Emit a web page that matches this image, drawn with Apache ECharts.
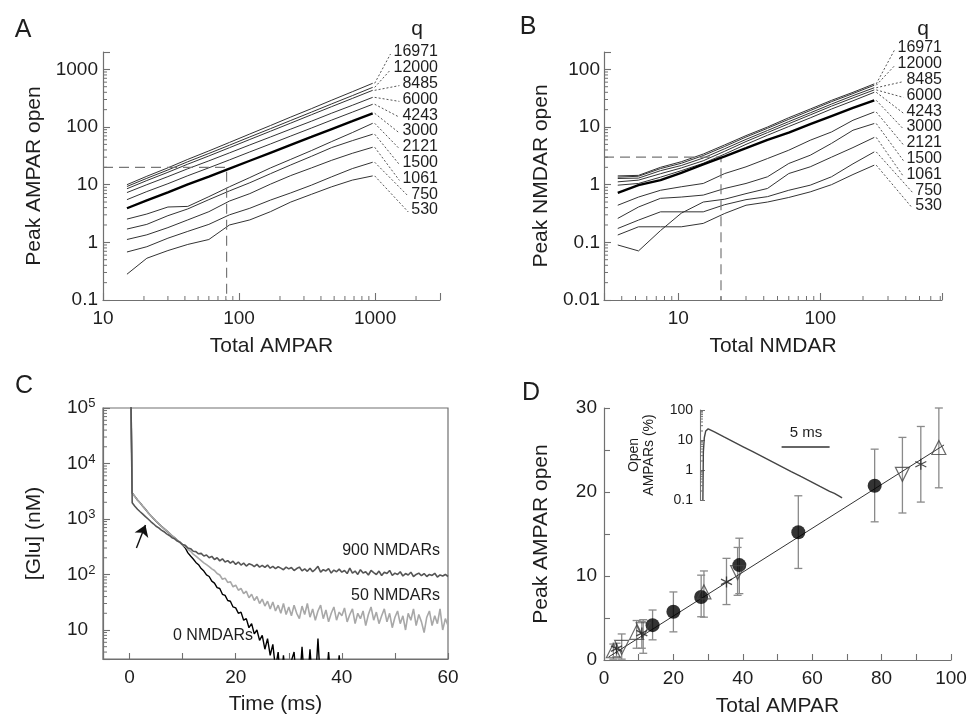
<!DOCTYPE html>
<html><head><meta charset="utf-8">
<script src="https://cdn.jsdelivr.net/npm/echarts@6/dist/echarts.min.js"></script>
<style>html,body{margin:0;padding:0;background:#fff}#c{width:968px;height:718px}</style>
</head><body><div id="c"></div>
<script>
// ---------------- DATA ----------------
const qLabels = ['16971','12000','8485','6000','4243','3000','2121','1500','1061','750','530'];
const xA = [15, 21, 30, 42, 60, 85, 120, 170, 240, 340, 480, 680, 960];
const a16971 = [10, 14, 19.6, 27.5, 38.5, 54, 75.7, 106, 149, 208, 292, 409, 573];
const a12000 = [9.3, 12.9, 18.0, 25.0, 34.8, 48.4, 67.3, 93.6, 130, 181, 252, 350, 487];
const a8485  = [8.5, 11.8, 16.4, 22.7, 31.5, 43.8, 60.8, 84.4, 117, 163, 226, 313, 433];
const a6000  = [7.3, 10.0, 13.8, 18.9, 25.9, 35.6, 48.9, 67.1, 92, 126, 174, 238, 327];
const a4243  = [5.5, 7.6, 10.4, 14.3, 19.6, 26.9, 37.0, 50.8, 69.8, 95.9, 132, 181, 248];
const a3000  = [3.9, 5.35, 7.34, 10.1, 13.8, 19.0, 26.0, 35.7, 49.0, 67.2, 92.2, 126, 173];
const a2121  = [2.53, 3.1, 4.1, 4.2, 6.2, 9.2, 13.3, 19.5, 27.5, 39, 56, 80, 116];
const a1500  = [1.7, 2.05, 2.9, 3.8, 5.5, 7.8, 10.8, 15.5, 22, 31, 44, 58, 75];
const a1061  = [1.12, 1.35, 1.8, 2.45, 3.4, 5.2, 7.0, 10.2, 14.4, 19.5, 26.5, 35, 44.6];
const a750   = [0.68, 0.84, 1.18, 1.55, 2.05, 3.0, 3.9, 5.4, 7.2, 9.8, 13.7, 19, 24.5];
const a530   = [0.28, 0.53, 0.72, 0.92, 1.12, 2.0, 2.45, 3.4, 5.0, 6.8, 9.2, 12, 14.2];
const dashA = [[10, 20], [81, 20], [81, 0.1]];

const xB = [3.75, 5.25, 7.5, 10.5, 15, 21.25, 30, 42.5, 60, 85, 120, 170, 240];
const b16971 = [1.42, 1.45, 2.0, 2.5, 3.4, 4.9, 7.1, 10, 14.5, 20.5, 29, 40, 56];
const b12000 = [1.35, 1.4, 1.9, 2.35, 3.2, 4.6, 6.7, 9.5, 13.6, 19.3, 27.5, 38, 53];
const b8485  = [1.28, 1.3, 1.75, 2.15, 2.9, 4.2, 6.1, 8.7, 12.4, 17.6, 25, 35, 48];
const b6000  = [1.12, 1.2, 1.55, 1.95, 2.6, 3.8, 5.6, 8.0, 11.4, 16.2, 23, 32, 44];
const b4243  = [0.98, 1.05, 1.35, 1.75, 2.35, 3.4, 5.0, 7.2, 10.2, 14.4, 20.5, 28.5, 40];
const b3000  = [0.72, 0.98, 1.2, 1.6, 2.25, 3.1, 4.3, 6.0, 8.0, 11.2, 15.5, 21.5, 29];
const b2121  = [0.44, 0.61, 0.80, 0.92, 1.05, 1.56, 2.04, 2.84, 3.96, 5.9, 8.2, 13.1, 18.2];
const b1500  = [0.26, 0.41, 0.58, 0.61, 0.66, 0.86, 1.05, 1.37, 2.33, 3.24, 5.2, 8.8, 11.5];
const b1061  = [0.09, 0.071, 0.16, 0.32, 0.5, 0.56, 0.70, 0.86, 1.56, 2.04, 3.0, 4.4, 6.6];
const b750   = [0.174, 0.243, 0.338, 0.338, 0.338, 0.45, 0.55, 0.62, 0.8, 0.98, 1.37, 2.3, 3.7];
const b530   = [0.134, 0.186, 0.186, 0.186, 0.213, 0.317, 0.44, 0.5, 0.6, 0.75, 1.0, 1.5, 2.18];
const dashB = [[3, 3], [20, 3], [20, 0.01]];

const tC = [
  0.25, 0.5, 1, 1.5, 2, 2.5, 3, 3.5, 4, 4.5,
  5, 5.5, 6, 6.5, 7, 7.5, 8, 8.5, 9, 9.5,
  10, 10.5, 11, 11.5, 12, 12.5, 13, 13.5, 14, 14.5,
  15, 15.5, 16, 16.5, 17, 17.5, 18, 18.5, 19, 19.5,
  20, 20.5, 21, 21.5, 22, 22.5, 23, 23.5, 24, 24.5,
  25, 25.5, 26, 26.5, 27, 27.5, 28, 28.5, 29, 29.5,
  30, 30.5, 31, 31.5, 32, 32.5, 33, 33.5, 34, 34.5,
  35, 35.5, 36, 36.5, 37, 37.5, 38, 38.5, 39, 39.5,
  40, 40.5, 41, 41.5, 42, 42.5, 43, 43.5, 44, 44.5,
  45, 45.5, 46, 46.5, 47, 47.5, 48, 48.5, 49, 49.5,
  50, 50.5, 51, 51.5, 52, 52.5, 53, 53.5, 54, 54.5,
  55, 55.5, 56, 56.5, 57, 57.5, 58, 58.5, 59, 59.5,
  60];
const glu900 = [
  200000, 1970, 1700, 1500, 1350, 1220, 1100, 1000, 900, 820,
  740, 690, 630, 590, 540, 505, 460, 440, 400, 380,
  345, 335, 300, 292, 262, 258, 236, 240, 215, 224,
  200, 212, 186, 200, 176, 192, 168, 178, 160, 174,
  152, 168, 148, 160, 142, 156, 150, 138, 152, 136,
  146, 134, 148, 130, 140, 128, 138, 130, 122, 136,
  126, 134, 118, 128, 136, 116, 126, 114, 130, 112,
  124, 140, 110, 122, 116, 128, 106, 120, 112, 125,
  110, 118, 104, 130, 106, 115, 100, 122, 106, 112,
  98, 118, 108, 100, 115, 96, 110, 104, 118, 96,
  106, 100, 112, 94, 104, 98, 110, 92, 100, 106,
  95, 104, 92, 100, 96, 105, 90, 98, 94, 100,
  92];
const glu50 = [
  200000, 2950, 2550, 2200, 1950, 1700, 1500, 1300, 1150, 1020,
  910, 820, 740, 670, 610, 555, 500, 460, 415, 380,
  340, 318, 285, 262, 232, 215, 195, 178, 162, 150,
  138, 126, 118, 104, 98, 82, 86, 72, 74, 60,
  64, 52, 56, 45, 50, 38, 44, 34, 40, 30,
  36, 27, 33, 24, 32, 22, 28, 20, 30, 19,
  26, 18, 28, 20, 16, 27, 19, 30, 17, 24,
  15, 22, 28, 16, 23, 14, 20, 26, 15, 21,
  18, 25, 14, 19, 24, 13, 20, 16, 22, 12,
  19, 26, 15, 21, 13, 18, 24, 14, 20, 11,
  17, 22, 13, 18, 10, 20, 15, 24, 12, 19,
  14, 9, 17, 22, 12, 18, 13, 24, 10, 16,
  12];
const glu0 = [
  200000, 2950, 2550, 2200, 1950, 1700, 1500, 1300, 1150, 1020,
  910, 820, 740, 670, 610, 555, 500, 460, 415, 380,
  340, 300, 245, 215, 190, 165, 150, 128, 115, 98,
  92, 76, 70, 58, 56, 44, 42, 34, 33, 26,
  25, 20, 21, 15, 16, 11, 13, 8.5, 10, 6.5,
  8, 4.5, 7, 3.5, 5.5, 2, 4, 1, 3.5, 1,
  1, 2.8, 4, 1, 1, 5, 1, 1, 4.5, 1,
  1, 7, 1, 1, 1, 4, 1, 1, 1, 3.5,
  1, 1, 1, 1, 1, 1, 1, 1, 1, 1,
  1, 1, 1, 1, 1, 1, 1, 1, 1, 1,
  1, 1, 1, 1, 1, 1, 1, 1, 1, 1,
  1, 1, 1, 1, 1, 1, 1, 1, 1, 1,
  1];
const arrowC = [[1.3, 300], [3.0, 780]];

const circX = [14, 20, 28, 39, 56, 78];
const circY = [4.15, 5.75, 7.5, 11.3, 15.2, 20.75];
const circLo = [2.4, 3.35, 5.15, 7.9, 10.9, 16.45];
const circHi = [5.95, 8.1, 10.1, 14.5, 19.55, 25.1];
const upX = [2.7, 9.4, 28.8, 96.5];
const upY = [1.1, 3.3, 8.1, 25.3];
const upLo = [0.1, 1.4, 5.1, 20.5];
const upHi = [1.9, 4.7, 10.6, 30.0];
const dnX = [5.1, 11.3, 38.5, 86];
const dnY = [1.5, 3.6, 10.4, 22.1];
const dnLo = [0.1, 0.8, 7.7, 17.5];
const dnHi = [3.1, 4.8, 13.4, 26.5];
const stX = [3.6, 10.9, 35.3, 91.3];
const stY = [1.35, 3.2, 9.3, 23.3];
const stLo = [0.4, 1.4, 6.6, 18.8];
const stHi = [2.0, 4.6, 12.1, 27.8];
const fitD = [[1.3, 0.35], [98, 25.6]];

const tIn = [0.3, 0.35, 0.45, 0.6, 0.85, 1.5, 2.5, 3.5, 4.5, 5.5, 6.5, 7.5, 8.5, 9.5, 10.5, 11.5, 12.5, 13.5, 14, 14.5, 14.8];
const vIn = [0.1, 4, 12, 20, 23.5, 18.6, 12.7, 8.7, 5.95, 4.07, 2.78, 1.9, 1.3, 0.89, 0.61, 0.42, 0.285, 0.195, 0.165, 0.135, 0.118];
const scaleBar = [[8.5, 5.8], [13.5, 5.8]];

// ---------------- CHART ----------------
const FONT = '"Liberation Sans", Arial, Helvetica, sans-serif';
const AXC = '#707070';
const TXC = '#1e1e1e';
const chart = echarts.init(document.getElementById('c'), null, {renderer: 'canvas'});

function pow10Label(v) {
  const l = Math.log10(v), r = Math.round(l);
  if (Math.abs(l - r) > 1e-6) return '';
  return r >= 0 ? String(Math.round(Math.pow(10, r))) : Math.pow(10, r).toFixed(-r);
}
function supLabel(v) {
  const l = Math.log10(v), r = Math.round(l);
  if (Math.abs(l - r) > 1e-6) return '';
  return r === 1 ? '{b|10}' : '{b|10}{s|' + r + '}';
}
const axLine = {show: true, onZero: false, lineStyle: {color: AXC, width: 1.2}};
const axTick = {show: true, inside: true, length: 7, lineStyle: {color: AXC, width: 1.1}};
const nameStyle = {color: TXC, fontSize: 21, fontFamily: FONT};
function lab(extra) { return Object.assign({color: TXC, fontSize: 19, fontFamily: FONT}, extra); }

function minorTicks(idx, xv, yv, xRef, yRef, len) {
  const data = xv.map(v => [v, 1]).concat(yv.map(v => [v, 2]));
  return {
    type: 'custom', xAxisIndex: idx, yAxisIndex: idx, silent: true, z: 5, data: data,
    renderItem: function (params, api) {
      const cs = params.coordSys;
      const v = api.value(0), k = api.value(1);
      if (k === 1) {
        const p = api.coord([v, yRef]);
        return {type: 'line', shape: {x1: p[0], y1: cs.y + cs.height, x2: p[0], y2: cs.y + cs.height - len},
          style: {stroke: AXC, lineWidth: 1}};
      }
      const p = api.coord([xRef, v]);
      return {type: 'line', shape: {x1: cs.x, y1: p[1], x2: cs.x + len, y2: p[1]}, style: {stroke: AXC, lineWidth: 1}};
    }
  };
}
function decadeMinors(lo, hi) {
  const out = [];
  for (let e = lo; e < hi; e++) for (let m = 2; m <= 9; m++) out.push(+(m * Math.pow(10, e)).toPrecision(6));
  return out;
}
function errBars(idx, xs, lo, hi) {
  return {
    type: 'custom', xAxisIndex: idx, yAxisIndex: idx, silent: true, z: 2,
    data: xs.map((x, i) => [x, lo[i], hi[i]]),
    renderItem: function (params, api) {
      const p1 = api.coord([api.value(0), api.value(1)]);
      const p2 = api.coord([api.value(0), api.value(2)]);
      const st = {stroke: '#8a8a8a', lineWidth: 1.3};
      return {type: 'group', children: [
        {type: 'line', shape: {x1: p1[0], y1: p1[1], x2: p2[0], y2: p2[1]}, style: st},
        {type: 'line', shape: {x1: p1[0] - 4, y1: p1[1], x2: p1[0] + 4, y2: p1[1]}, style: st},
        {type: 'line', shape: {x1: p2[0] - 4, y1: p2[1], x2: p2[0] + 4, y2: p2[1]}, style: st}
      ]};
    }
  };
}
function pairs(xs, ys) { return xs.map((x, i) => [x, ys[i]]); }

const aSets = [a16971, a12000, a8485, a6000, a4243, a3000, a2121, a1500, a1061, a750, a530];
const bSets = [b16971, b12000, b8485, b6000, b4243, b3000, b2121, b1500, b1061, b750, b530];

const series = [];
aSets.forEach((arr, i) => series.push({
  type: 'line', xAxisIndex: 0, yAxisIndex: 0, symbol: 'none', silent: true, data: pairs(xA, arr),
  lineStyle: {color: i === 5 ? '#000' : '#333', width: i === 5 ? 2.4 : 1}, z: i === 5 ? 4 : 3
}));
series.push({type: 'line', xAxisIndex: 0, yAxisIndex: 0, symbol: 'none', silent: true, data: dashA,
  lineStyle: {color: '#777', width: 1.2, type: [10, 6]}});
bSets.forEach((arr, i) => series.push({
  type: 'line', xAxisIndex: 1, yAxisIndex: 1, symbol: 'none', silent: true, data: pairs(xB, arr),
  lineStyle: {color: i === 5 ? '#000' : '#333', width: i === 5 ? 2.4 : 1}, z: i === 5 ? 4 : 3
}));
series.push({type: 'line', xAxisIndex: 1, yAxisIndex: 1, symbol: 'none', silent: true, data: dashB,
  lineStyle: {color: '#777', width: 1.2, type: [10, 6]}});

series.push({type: 'line', xAxisIndex: 2, yAxisIndex: 2, symbol: 'none', silent: true, data: pairs(tC, glu0),
  lineStyle: {color: '#000', width: 1.4}, z: 2,
  markLine: {silent: true, symbol: ['none', 'arrow'], symbolSize: 11, label: {show: false},
    lineStyle: {color: '#111', width: 1.4, type: 'solid'}, animation: false,
    data: [[{coord: arrowC[0]}, {coord: arrowC[1]}]]}});
series.push({type: 'line', xAxisIndex: 2, yAxisIndex: 2, symbol: 'none', silent: true, data: pairs(tC, glu50),
  lineStyle: {color: '#a8a8a8', width: 1.6}, z: 3});
series.push({type: 'line', xAxisIndex: 2, yAxisIndex: 2, symbol: 'none', silent: true, data: pairs(tC, glu900),
  lineStyle: {color: '#555', width: 1.6}, z: 4});

series.push(errBars(3, circX, circLo, circHi));
series.push(errBars(3, upX, upLo, upHi));
series.push(errBars(3, dnX, dnLo, dnHi));
series.push(errBars(3, stX, stLo, stHi));
series.push({type: 'line', xAxisIndex: 3, yAxisIndex: 3, symbol: 'none', silent: true, data: fitD,
  lineStyle: {color: '#333', width: 1}, z: 3});
series.push({type: 'scatter', xAxisIndex: 3, yAxisIndex: 3, silent: true, data: pairs(circX, circY),
  symbol: 'circle', symbolSize: 14, itemStyle: {color: '#000'}, z: 5});
series.push({type: 'scatter', xAxisIndex: 3, yAxisIndex: 3, silent: true, data: pairs(upX, upY),
  symbol: 'triangle', symbolSize: 14, itemStyle: {color: 'rgba(255,255,255,0)', borderColor: '#444', borderWidth: 1.2}, z: 5});
series.push({type: 'scatter', xAxisIndex: 3, yAxisIndex: 3, silent: true, data: pairs(dnX, dnY),
  symbol: 'triangle', symbolRotate: 180, symbolSize: 14, itemStyle: {color: 'rgba(255,255,255,0)', borderColor: '#444', borderWidth: 1.2}, z: 5});
series.push({type: 'scatter', xAxisIndex: 3, yAxisIndex: 3, silent: true, data: pairs(stX, stY),
  symbol: 'path://M5,0L5,10M0.67,2.5L9.33,7.5M0.67,7.5L9.33,2.5', symbolSize: 11,
  itemStyle: {color: 'rgba(0,0,0,0)', borderColor: '#222', borderWidth: 1.3}, z: 5});

series.push({type: 'line', xAxisIndex: 4, yAxisIndex: 4, symbol: 'none', silent: true, data: pairs(tIn, vIn),
  lineStyle: {color: '#444', width: 1.4}, z: 4});
series.push({type: 'line', xAxisIndex: 4, yAxisIndex: 4, symbol: 'none', silent: true, data: scaleBar,
  lineStyle: {color: '#333', width: 1.5}, z: 4});

series.push(minorTicks(0, decadeMinors(1, 3).concat([2000]), decadeMinors(-1, 3), 10, 0.1, 4));
series.push(minorTicks(1, [4, 5, 6, 7, 8, 9].concat(decadeMinors(1, 2), [200, 300, 400, 500, 600, 700]), decadeMinors(-2, 2), 3, 0.01, 4));
series.push(minorTicks(2, [], [4, 5, 6, 7, 8, 9].concat(decadeMinors(1, 5)), -5, 3, 4));
series.push(minorTicks(4, [], decadeMinors(-1, 2), 0, 0.1, 3));

const option = {
  animation: false,
  backgroundColor: '#fff',
  textStyle: {fontFamily: FONT},
  grid: [
    {left: 103, top: 52, width: 337, height: 248, outerBoundsMode: 'none'},
    {left: 604, top: 52, width: 338, height: 248, outerBoundsMode: 'none'},
    {left: 103, top: 408, width: 345, height: 251, show: true, borderColor: AXC, borderWidth: 1.2, outerBoundsMode: 'none'},
    {left: 604, top: 408, width: 347, height: 252, outerBoundsMode: 'none'},
    {left: 700, top: 410, width: 192, height: 90, outerBoundsMode: 'none'}
  ],
  xAxis: [
    {type: 'log', gridIndex: 0, min: 10, max: 3000, logBase: 10, axisLine: axLine, axisTick: axTick, splitLine: {show: false},
      axisLabel: lab({margin: 9, formatter: pow10Label, showMinLabel: true, showMaxLabel: true}),
      name: 'Total AMPAR', nameLocation: 'middle', nameGap: 36, nameTextStyle: nameStyle},
    {type: 'log', gridIndex: 1, min: 3, max: 720, logBase: 10, axisLine: axLine, axisTick: axTick, splitLine: {show: false},
      axisLabel: lab({margin: 9, formatter: pow10Label}),
      name: 'Total NMDAR', nameLocation: 'middle', nameGap: 36, nameTextStyle: nameStyle},
    {type: 'value', gridIndex: 2, min: -5, max: 60, axisLine: axLine, axisTick: Object.assign({}, axTick, {length: 6}), splitLine: {show: false},
      axisLabel: lab({margin: 9, formatter: v => (v >= 0 && v % 20 === 0) ? String(v) : ''}),
      name: 'Time (ms)', nameLocation: 'middle', nameGap: 35, nameTextStyle: nameStyle},
    {type: 'value', gridIndex: 3, min: 0, max: 100, interval: 10, axisLine: axLine, axisTick: Object.assign({}, axTick, {length: 6}), splitLine: {show: false},
      axisLabel: lab({margin: 9, formatter: v => v % 20 === 0 ? String(v) : ''}),
      name: 'Total AMPAR', nameLocation: 'middle', nameGap: 36, nameTextStyle: nameStyle},
    {type: 'value', gridIndex: 4, min: 0, max: 20, show: false}
  ],
  yAxis: [
    {type: 'log', gridIndex: 0, min: 0.1, max: 2000, logBase: 10, axisLine: axLine, axisTick: axTick, splitLine: {show: false},
      axisLabel: lab({margin: 5, formatter: pow10Label}),
      name: 'Peak AMPAR open', nameLocation: 'middle', nameGap: 58, nameTextStyle: nameStyle},
    {type: 'log', gridIndex: 1, min: 0.01, max: 200, logBase: 10, axisLine: axLine, axisTick: axTick, splitLine: {show: false},
      axisLabel: lab({margin: 4, formatter: pow10Label}),
      name: 'Peak NMDAR open', nameLocation: 'middle', nameGap: 52, nameTextStyle: nameStyle},
    {type: 'log', gridIndex: 2, min: 3, max: 100000, logBase: 10, axisLine: axLine, axisTick: axTick, splitLine: {show: false},
      axisLabel: lab({margin: 36, align: 'left', formatter: supLabel,
        rich: {b: {fontSize: 19, fontFamily: FONT, color: TXC, lineHeight: 22},
               s: {fontSize: 13, fontFamily: FONT, color: TXC, lineHeight: 8, verticalAlign: 'top'}}}),
      name: '[Glu] (nM)', nameLocation: 'middle', nameGap: 58, nameTextStyle: nameStyle},
    {type: 'value', gridIndex: 3, min: 0, max: 30, interval: 5, axisLine: axLine, axisTick: Object.assign({}, axTick, {length: 6}), splitLine: {show: false},
      axisLabel: lab({margin: 7, formatter: v => v % 10 === 0 ? String(v) : ''}),
      name: 'Peak AMPAR open', nameLocation: 'middle', nameGap: 52, nameTextStyle: nameStyle},
    {type: 'log', gridIndex: 4, min: 0.1, max: 100, logBase: 10,
      axisLine: {show: true, onZero: false, lineStyle: {color: AXC, width: 1.1}},
      axisTick: {show: true, inside: true, length: 5, lineStyle: {color: AXC, width: 1}}, splitLine: {show: false},
      axisLabel: {color: TXC, fontSize: 14, fontFamily: FONT, margin: 7, formatter: pow10Label},
      name: 'Open\nAMPARs (%)', nameLocation: 'middle', nameGap: 43,
      nameTextStyle: {color: TXC, fontSize: 14, fontFamily: FONT, lineHeight: 15}}
  ],
  series: series
};
chart.setOption(option);

const graphics = [];
function txt(x, y, s, size, align, extra) {
  graphics.push(Object.assign({type: 'text', x: x, y: y, silent: true, z: 100,
    style: {text: s, fill: TXC, font: size + 'px ' + FONT, align: align || 'center', verticalAlign: 'middle'}}, extra || {}));
}
txt(23, 30, 'A', 25); txt(528, 27, 'B', 25); txt(24, 386, 'C', 25); txt(531, 393, 'D', 25);
txt(417, 29, 'q', 21); txt(923, 29, 'q', 21);
txt(440, 551, '900 NMDARs', 16, 'right');
txt(440, 596, '50 NMDARs', 16, 'right');
txt(173, 636, '0 NMDARs', 16, 'left');
txt(806, 433, '5 ms', 15);

function qColumn(gIdx, xEnd, sets, rightX, topY, step) {
  qLabels.forEach((q, i) => {
    const y = topY + i * step;
    txt(rightX, y, q, 16, 'right');
    const arr = sets[i];
    const p = chart.convertToPixel({gridIndex: gIdx}, [xEnd, arr[arr.length - 1]]);
    const w = q.length * 8.9;
    graphics.push({type: 'line', silent: true, z: 100,
      shape: {x1: p[0] + 2, y1: p[1], x2: rightX - w - 3, y2: y + 2},
      style: {stroke: '#555', lineWidth: 1, lineDash: [2, 2]}});
  });
}
qColumn(0, xA[xA.length - 1], aSets, 438, 52, 15.8);
qColumn(1, xB[xB.length - 1], bSets, 942, 48, 15.8);

chart.setOption({graphic: graphics});
</script></body></html>
